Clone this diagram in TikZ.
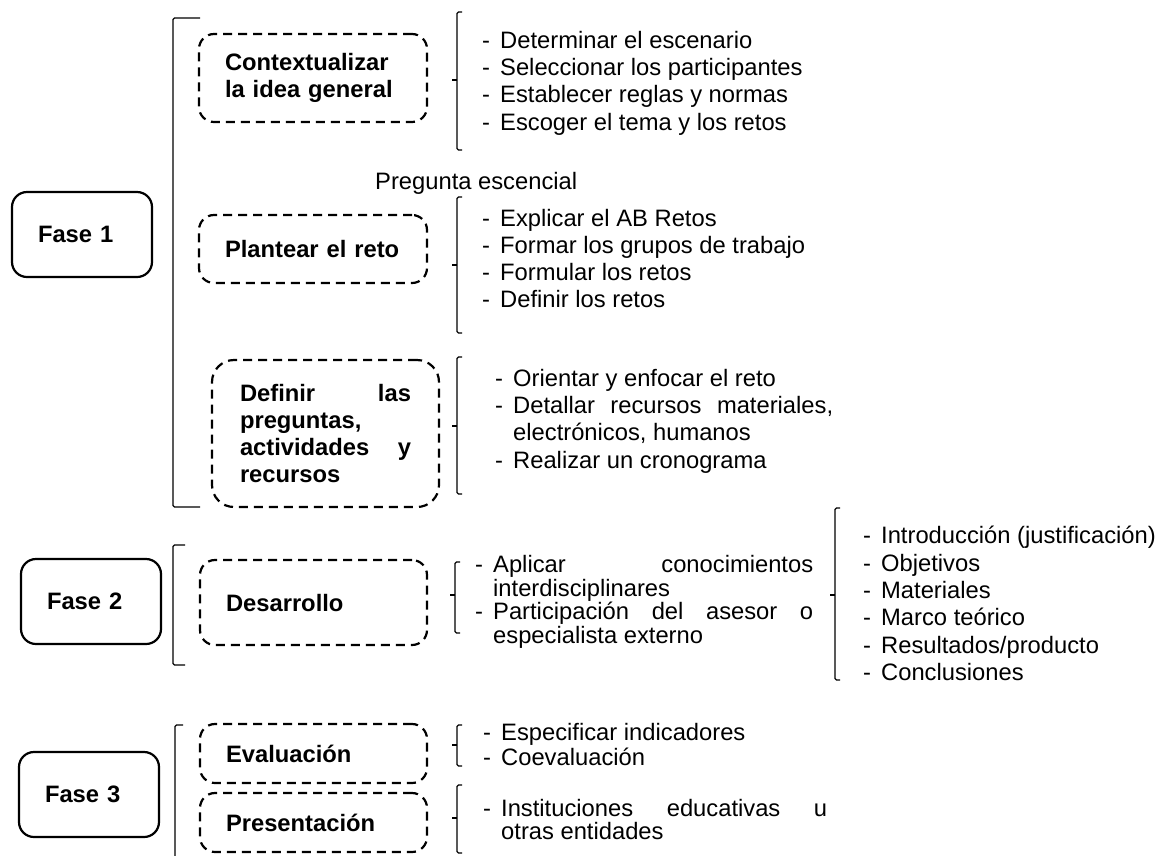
\documentclass[tikz,border=0pt]{standalone}
\usepackage{fontspec}
\setmainfont{Liberation Sans}
% list entry with a hanging dash, and a continuation line
\newcommand{\lsitem}[1]{\makebox[18pt][l]{-}#1}
\newcommand{\lscont}[1]{\hspace*{18pt}#1}
% left square bracket: x, top, bottom, end tick, middle y, middle tick
\newcommand{\bracketL}[6]{%
  \draw[brk] (#1+#4,#2) -- (#1,#2) -- (#1,#3) -- (#1+#4,#3);
  \ifdim#6pt>0pt \draw[brk] (#1,#5) -- (#1-#6,#5);\fi}
\begin{document}
\begin{tikzpicture}[x=1pt,y=-1pt,
  txt/.style={font=\fontsize{23.75}{27.3}\selectfont, inner sep=0pt, anchor=west, align=left},
  phase/.style={draw, line width=2.2pt, rounded corners=15pt,
    font=\bfseries\fontsize{23.75}{27.3}\selectfont, align=left,
    inner xsep=26pt, inner ysep=0pt, text width=88pt, minimum height=85pt},
  stage/.style={draw, line width=2.2pt, dash pattern=on 9pt off 6pt, rounded corners=15pt,
    font=\bfseries\fontsize{23.75}{27.3}\selectfont, align=left,
    inner xsep=26pt, inner ysep=0pt},
  brk/.style={line width=1.2pt, rounded corners=1.5pt}
]
\useasboundingbox (0,0) rectangle (1161,855);

% phases
\node[phase] (f1) at (82,234.5) {Fase 1};
\node[phase] (f2) at (91,601.5) {Fase 2};
\node[phase] (f3) at (89,794.5) {Fase 3};

% stages
\node[stage, text width=176pt, minimum height=88pt] (ctx) at (313,78)
  {Contextualizar\\la idea general};
\node[stage, text width=176pt, minimum height=68pt] (plan) at (313,249)
  {Plantear el reto};
\node[stage, inner xsep=28pt, text width=171pt, minimum height=147pt, rounded corners=22pt] (def) at (325.5,433.5)
  {\makebox[171pt][l]{Definir\hfill las}\\preguntas,\\\makebox[171pt][l]{actividades\hfill y}\\recursos};
\node[stage, text width=175pt, minimum height=85pt] (des) at (313.5,602.5)
  {Desarrollo};
\node[stage, text width=175pt, minimum height=59pt] (eval) at (313.5,753.5)
  {Evaluación};
\node[stage, text width=175pt, minimum height=59pt] (pres) at (313.5,822.5)
  {Presentación};

\node[txt] (q) at (375,183) {Pregunta escencial};

% activity lists
\node[txt] (l1) at (482,83) {\lsitem{Determinar el escenario}\\
  \lsitem{Seleccionar los participantes}\\
  \lsitem{Establecer reglas y normas}\\
  \lsitem{Escoger el tema y los retos}};
\node[txt] (l2) at (482,258.5) {\lsitem{Explicar el AB Retos}\\
  \lsitem{Formar los grupos de trabajo}\\
  \lsitem{Formular los retos}\\
  \lsitem{Definir los retos}};
\node[txt] (l3) at (495,421) {\lsitem{Orientar y enfocar el reto}\\
  \lsitem{\makebox[320pt][s]{Detallar recursos materiales,}}\\
  \lscont{electrónicos, humanos}\\
  \lsitem{Realizar un cronograma}};
\node[txt, font=\fontsize{23.75}{23.5}\selectfont] (l4) at (475,602) {\lsitem{\makebox[320pt][s]{Aplicar conocimientos}}\\
  \lscont{interdisciplinares}\\
  \lsitem{\makebox[320pt][s]{Participación del asesor o}}\\
  \lscont{especialista externo}};
\node[txt] (l5) at (863,603.5) {\lsitem{Introducción (justificación)}\\
  \lsitem{Objetivos}\\
  \lsitem{Materiales}\\
  \lsitem{Marco teórico}\\
  \lsitem{Resultados/producto}\\
  \lsitem{Conclusiones}};
\node[txt, font=\fontsize{23.75}{25}\selectfont] (l6) at (483,744.5) {\lsitem{Especificar indicadores}\\
  \lsitem{Coevaluación}};
\node[txt, font=\fontsize{23.75}{23}\selectfont] (l7) at (483,819.5) {\lsitem{\makebox[326pt][s]{Instituciones educativas u}}\\
  \lscont{otras entidades}};

% brackets grouping each phase
\bracketL{173}{18}{507}{27}{0}{0}
\bracketL{173}{545}{665}{12}{0}{0}
\bracketL{175}{725}{858}{8}{0}{0}
% brackets grouping each list
\bracketL{457}{12}{150}{5}{80}{5}
\bracketL{457}{197}{333}{5}{265}{5}
\bracketL{457}{357}{494}{5}{426}{5}
\bracketL{455}{562}{633}{5}{595}{5}
\bracketL{835}{508}{680}{5}{595}{5}
\bracketL{457}{725}{766}{5}{745}{5}
\bracketL{457}{785}{853}{5}{818}{5}
\end{tikzpicture}
\end{document}
